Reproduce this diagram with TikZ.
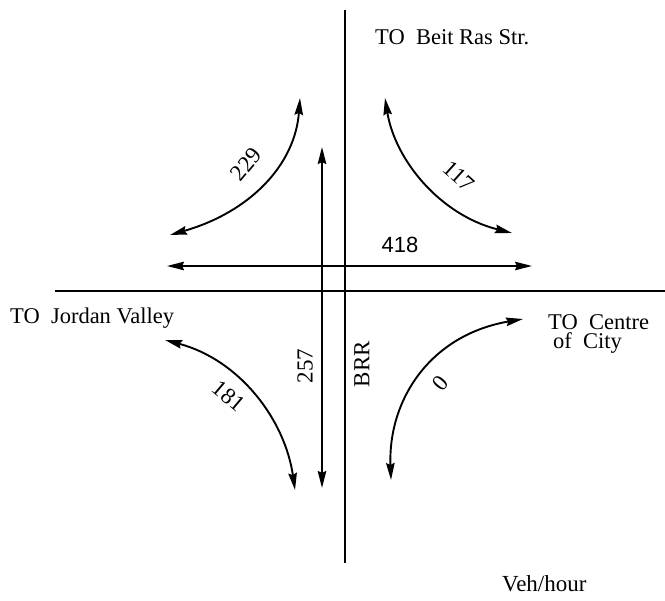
\documentclass[tikz,border=0pt]{standalone}
\usepackage{fontspec}
\setmainfont{Liberation Serif}
\newfontfamily\lsans{Liberation Sans}
\usetikzlibrary{arrows.meta}
\begin{document}
\begin{tikzpicture}[x=1pt,y=-1pt,
  road/.style={line width=2.4pt},
  flow/.style={line width=1.9pt,{Stealth[length=17pt,width=8.5pt,inset=2pt]}-{Stealth[length=17pt,width=8.5pt,inset=2pt]}},
  lbl/.style={font=\fontsize{22.5}{24}\selectfont, inner sep=0pt},
  num/.style={font=\fontsize{23}{25}\selectfont, inner sep=0pt}]
\useasboundingbox (0,0) rectangle (665,601);
% roads
\coordinate (vt) at (345,10);
\coordinate (vb) at (345,563);
\coordinate (hl) at (55,291);
\coordinate (hr) at (665,291);
\draw[road] (vt) -- (vb);
\draw[road] (hl) -- (hr);
% through movements
\coordinate (nsT) at (322,147);
\coordinate (nsB) at (322,488);
\coordinate (ewL) at (167,266);
\coordinate (ewR) at (532,266);
\draw[flow] (nsB) -- (nsT);
\draw[flow] (ewL) -- (ewR);
% turning movements
\coordinate (a1) at (170,235);
\coordinate (a2) at (300,98);
\draw[flow] (a1) .. controls (250,212) and (295,165) .. (a2);
\coordinate (b1) at (385,98);
\coordinate (b2) at (512,233);
\draw[flow] (b1) .. controls (395,160) and (440,215) .. (b2);
\coordinate (c1) at (165,340);
\coordinate (c2) at (295,490);
\draw[flow] (c1) .. controls (240,360) and (285,420) .. (c2);
\coordinate (d1) at (391,480);
\coordinate (d2) at (523,319);
\draw[flow] (d1) .. controls (388,400) and (430,335) .. (d2);
% volume labels
\node[num, rotate=50] (n229) at (246,164) {229};
\node[num, rotate=-42] (n117) at (459,176) {117};
\node[num, font=\lsans\fontsize{22}{24}\selectfont] (n418) at (400,245) {418};
\node[num, rotate=90] (n257) at (305,366) {257};
\node[num, rotate=-40] (n181) at (229,396) {181};
\node[num, rotate=50] (n0) at (440,383) {0};
\node[num, rotate=90] (nbrr) at (362,364) {BRR};
% destinations
\node[lbl, anchor=base west] (tbr) at (375,45) {TO\ \ Beit Ras Str.};
\node[lbl, anchor=base west] (tjv) at (10,324) {TO\ \ Jordan Valley};
\node[lbl, anchor=base west] (tcc) at (548,330) {TO\ \ Centre};
\node[lbl, anchor=base west] (toc) at (553,349) {of\ \ City};
\node[lbl, font=\fontsize{23}{25}\selectfont, anchor=base west] (veh) at (502,592) {Veh/hour};
\end{tikzpicture}
\end{document}
